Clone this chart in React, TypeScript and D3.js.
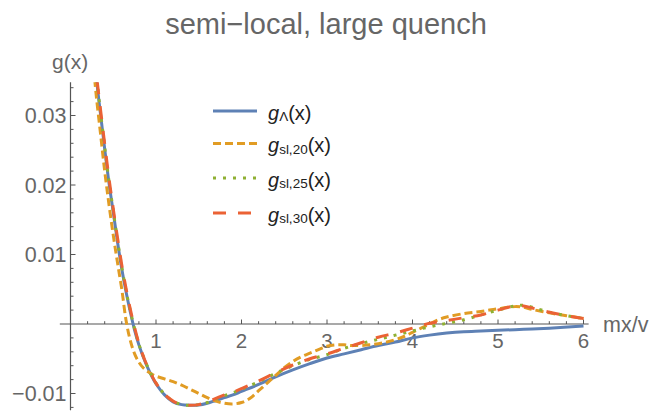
import { useEffect, useRef } from 'react'
import * as d3 from 'd3'

type Pt = [number, number]

const W = 652, H = 413
const FONT = '"Liberation Sans", Arial, sans-serif'

const TITLE = 'semi\u2212local, large quench'
const X_LABEL = 'mx/v'
const Y_LABEL = 'g(x)'
const X_TICKS = [1, 2, 3, 4, 5, 6]
const Y_TICKS = [-0.01, 0.01, 0.02, 0.03]
const Y_TICK_LABELS = ['\u22120.01', '0.01', '0.02', '0.03']

// g_Lambda(x)
const G_LAMBDA: Pt[] = [
  [0.28, 0.0378], [0.3, 0.0356], [0.35, 0.0303], [0.4, 0.0252], [0.45, 0.0203], [0.5, 0.0161],
  [0.55, 0.0118], [0.6, 0.0079], [0.65, 0.0046], [0.7, 0.0017], [0.75, -0.0009], [0.8, -0.003],
  [0.85, -0.0047], [0.9, -0.0062], [0.95, -0.0075], [1.0, -0.0086], [1.1, -0.0102], [1.2, -0.0112],
  [1.3, -0.0116], [1.4, -0.01168], [1.5, -0.01165], [1.6, -0.0114], [1.7, -0.011], [1.8, -0.0106],
  [1.9, -0.0102], [2.0, -0.0097], [2.2, -0.0087], [2.4, -0.0076], [2.6, -0.0066], [2.8, -0.0057],
  [3.0, -0.0049], [3.2, -0.0043], [3.4, -0.0037], [3.6, -0.0031], [3.8, -0.0026], [4.0, -0.002],
  [4.2, -0.0016], [4.4, -0.0013], [4.6, -0.0011], [4.8, -0.001], [5.0, -0.0009], [5.3, -0.00077],
  [5.6, -0.0006], [6.0, -0.0003],
]

// g_sl,20(x)
const G_SL20: Pt[] = [
  [0.27, 0.037], [0.3, 0.033], [0.35, 0.0275], [0.4, 0.022], [0.45, 0.0172], [0.5, 0.0128],
  [0.55, 0.0088], [0.6, 0.005], [0.65, 0.0005], [0.7, -0.0024], [0.75, -0.0043], [0.8, -0.0055],
  [0.85, -0.0063], [0.9, -0.0068], [0.95, -0.0072], [1.0, -0.0075], [1.1, -0.0079], [1.2, -0.0083],
  [1.3, -0.0088], [1.4, -0.0094], [1.5, -0.01], [1.6, -0.0106], [1.7, -0.0111], [1.8, -0.0114],
  [1.9, -0.0115], [2.0, -0.0113], [2.1, -0.0107], [2.2, -0.0096], [2.3, -0.0085], [2.4, -0.0074],
  [2.5, -0.0063], [2.6, -0.0054], [2.7, -0.0047], [2.8, -0.0042], [2.9, -0.0037], [3.0, -0.0032],
  [3.1, -0.003], [3.2, -0.003], [3.3, -0.0031], [3.5, -0.003], [3.7, -0.0026], [3.9, -0.0018],
  [4.0, -0.0012], [4.1, -0.0006], [4.2, 0.0], [4.3, 0.0006], [4.4, 0.001], [4.6, 0.0015],
  [4.8, 0.0018], [5.0, 0.0022], [5.2, 0.0025], [5.3, 0.0024], [5.4, 0.0021], [5.6, 0.0016],
  [5.8, 0.0012], [6.0, 0.0008],
]

// g_sl,25(x)
const G_SL25: Pt[] = [
  [0.28, 0.0381], [0.3, 0.0359], [0.35, 0.0306], [0.4, 0.0255], [0.45, 0.0206], [0.5, 0.0163],
  [0.55, 0.0121], [0.6, 0.0082], [0.65, 0.0048], [0.7, 0.0019], [0.75, -0.0007], [0.8, -0.0029],
  [0.85, -0.0046], [0.9, -0.0061], [0.95, -0.0074], [1.0, -0.0085], [1.1, -0.0101], [1.2, -0.0111],
  [1.3, -0.0116], [1.4, -0.0117], [1.5, -0.0116], [1.6, -0.0113], [1.7, -0.0108], [1.8, -0.0103],
  [1.9, -0.0099], [2.0, -0.0094], [2.2, -0.0083], [2.4, -0.0071], [2.6, -0.006], [2.8, -0.0051],
  [3.0, -0.0044], [3.2, -0.0035], [3.4, -0.0028], [3.6, -0.0022], [3.8, -0.0016], [4.0, -0.001],
  [4.2, -0.0004], [4.4, 0.0001], [4.6, 0.0006], [4.8, 0.0013], [5.0, 0.002], [5.2, 0.0026],
  [5.3, 0.0027], [5.4, 0.0024], [5.6, 0.0017], [5.8, 0.0012], [6.0, 0.0008],
]

// g_sl,30(x)
const G_SL30: Pt[] = [
  [0.28, 0.0385], [0.3, 0.0362], [0.35, 0.031], [0.4, 0.0259], [0.45, 0.021], [0.5, 0.0166],
  [0.55, 0.0124], [0.6, 0.0085], [0.65, 0.0051], [0.7, 0.0021], [0.75, -0.0005], [0.8, -0.0028],
  [0.85, -0.0046], [0.9, -0.0061], [0.95, -0.0074], [1.0, -0.0085], [1.1, -0.0101], [1.2, -0.0111],
  [1.3, -0.0116], [1.4, -0.0117], [1.5, -0.0116], [1.6, -0.0112], [1.7, -0.0107], [1.8, -0.0102],
  [1.9, -0.0098], [2.0, -0.0093], [2.2, -0.0082], [2.4, -0.007], [2.6, -0.0059], [2.8, -0.005],
  [3.0, -0.0043], [3.2, -0.0035], [3.4, -0.0027], [3.6, -0.0019], [3.8, -0.0013], [4.0, -0.0006],
  [4.2, 0.0001], [4.4, 0.0005], [4.6, 0.0009], [4.8, 0.0013], [5.0, 0.002], [5.2, 0.0026],
  [5.3, 0.0026], [5.4, 0.0023], [5.6, 0.0017], [5.8, 0.0012], [6.0, 0.0008],
]

interface Series { data: Pt[]; color: string; dash: string | null; sub: string }
const SERIES: Series[] = [
  { data: G_LAMBDA, color: '#5e81b5', dash: null, sub: '\u039b' },
  { data: G_SL20, color: '#e19c24', dash: '8,4', sub: 'sl,20' },
  { data: G_SL25, color: '#8fb032', dash: '3,7', sub: 'sl,25' },
  { data: G_SL30, color: '#eb6235', dash: '13,12', sub: 'sl,30' },
]
const LEGEND_Y = [111, 143.5, 178, 213]

export default function App() {
  const svgRef = useRef<SVGSVGElement>(null)

  useEffect(() => {
    const svg = d3.select(svgRef.current)
    svg.selectAll('*').remove()

    const x = d3.scaleLinear([0, 6], [70.5, 583.5])
    const y = d3.scaleLinear([0, 0.01], [324, 254.5])
    const yTop = 0.0348, yBot = -0.0124

    const axisCol = '#555'
    const textCol = '#666'

    // title + axis labels
    svg.append('text').attr('x', 326).attr('y', 34).attr('text-anchor', 'middle')
      .attr('font-family', FONT).attr('font-size', 29).attr('fill', textCol).text(TITLE)
    svg.append('text').attr('x', 52).attr('y', 69)
      .attr('font-family', FONT).attr('font-size', 21).attr('fill', textCol).text(Y_LABEL)
    svg.append('text').attr('x', 603).attr('y', 332)
      .attr('font-family', FONT).attr('font-size', 21.5).attr('fill', textCol).text(X_LABEL)

    // axes
    svg.append('line').attr('x1', x(-0.125)).attr('x2', x(6.06)).attr('y1', y(0)).attr('y2', y(0))
      .attr('stroke', axisCol).attr('stroke-width', 1.2)
    svg.append('line').attr('x1', x(0)).attr('x2', x(0)).attr('y1', y(yTop)).attr('y2', y(yBot))
      .attr('stroke', axisCol).attr('stroke-width', 1.2)

    // x ticks
    d3.range(1, 31).map((i) => i * 0.2).forEach((v) => {
      const major = Math.abs(v - Math.round(v)) < 1e-6
      svg.append('line').attr('x1', x(v)).attr('x2', x(v)).attr('y1', y(0)).attr('y2', y(0) - (major ? 4.5 : 2.8))
        .attr('stroke', axisCol).attr('stroke-width', 1)
    })
    X_TICKS.forEach((v) => {
      svg.append('text').attr('x', x(v)).attr('y', y(0) + 24).attr('text-anchor', 'middle')
        .attr('font-family', FONT).attr('font-size', 20.5).attr('fill', textCol).text(String(v))
    })

    // y ticks
    d3.range(-6, 18).map((i) => i * 0.002).filter((v) => Math.abs(v) > 1e-9 && v <= yTop && v >= yBot).forEach((v) => {
      const major = Math.abs(v * 100 - Math.round(v * 100)) < 1e-6
      svg.append('line').attr('x1', x(0)).attr('x2', x(0) + (major ? 5 : 3)).attr('y1', y(v)).attr('y2', y(v))
        .attr('stroke', axisCol).attr('stroke-width', 1)
    })
    Y_TICKS.forEach((v, i) => {
      svg.append('text').attr('x', 66.5).attr('y', y(v) + 7.5).attr('text-anchor', 'end')
        .attr('font-family', FONT).attr('font-size', 21.5).attr('fill', textCol).text(Y_TICK_LABELS[i])
    })

    // curves
    svg.append('defs').append('clipPath').attr('id', 'plotclip').append('rect')
      .attr('x', x(-0.2)).attr('y', y(yTop)).attr('width', x(6.2) - x(-0.2)).attr('height', y(yBot) - y(yTop))

    const line = d3.line<Pt>().x((d) => x(d[0])).y((d) => y(d[1])).curve(d3.curveCatmullRom.alpha(0.5))
    const g = svg.append('g').attr('clip-path', 'url(#plotclip)')
    SERIES.forEach((s) => {
      const p = g.append('path').attr('d', line(s.data)).attr('fill', 'none')
        .attr('stroke', s.color).attr('stroke-width', 3)
      if (s.dash) p.attr('stroke-dasharray', s.dash)
    })

    // legend
    SERIES.forEach((s, i) => {
      const ly = LEGEND_Y[i]
      const l = svg.append('line').attr('x1', 213).attr('x2', 257).attr('y1', ly).attr('y2', ly)
        .attr('stroke', s.color).attr('stroke-width', 3)
      if (s.dash) l.attr('stroke-dasharray', s.dash)
      const t = svg.append('text').attr('x', 268).attr('y', ly + 8.5)
        .attr('font-family', FONT).attr('font-size', 20).attr('fill', '#222')
      t.append('tspan').attr('font-style', 'italic').text('g')
      t.append('tspan').attr('font-size', 13.5).attr('dy', 1.5).text(s.sub)
      t.append('tspan').attr('dy', -1.5).text('(x)')
    })
  }, [])

  return (
    <div style={{ position: 'fixed', left: 0, top: 0, width: W, height: H, background: '#fff' }}>
      <svg ref={svgRef} width={W} height={H} viewBox={`0 0 ${W} ${H}`} style={{ display: 'block' }} />
    </div>
  )
}
